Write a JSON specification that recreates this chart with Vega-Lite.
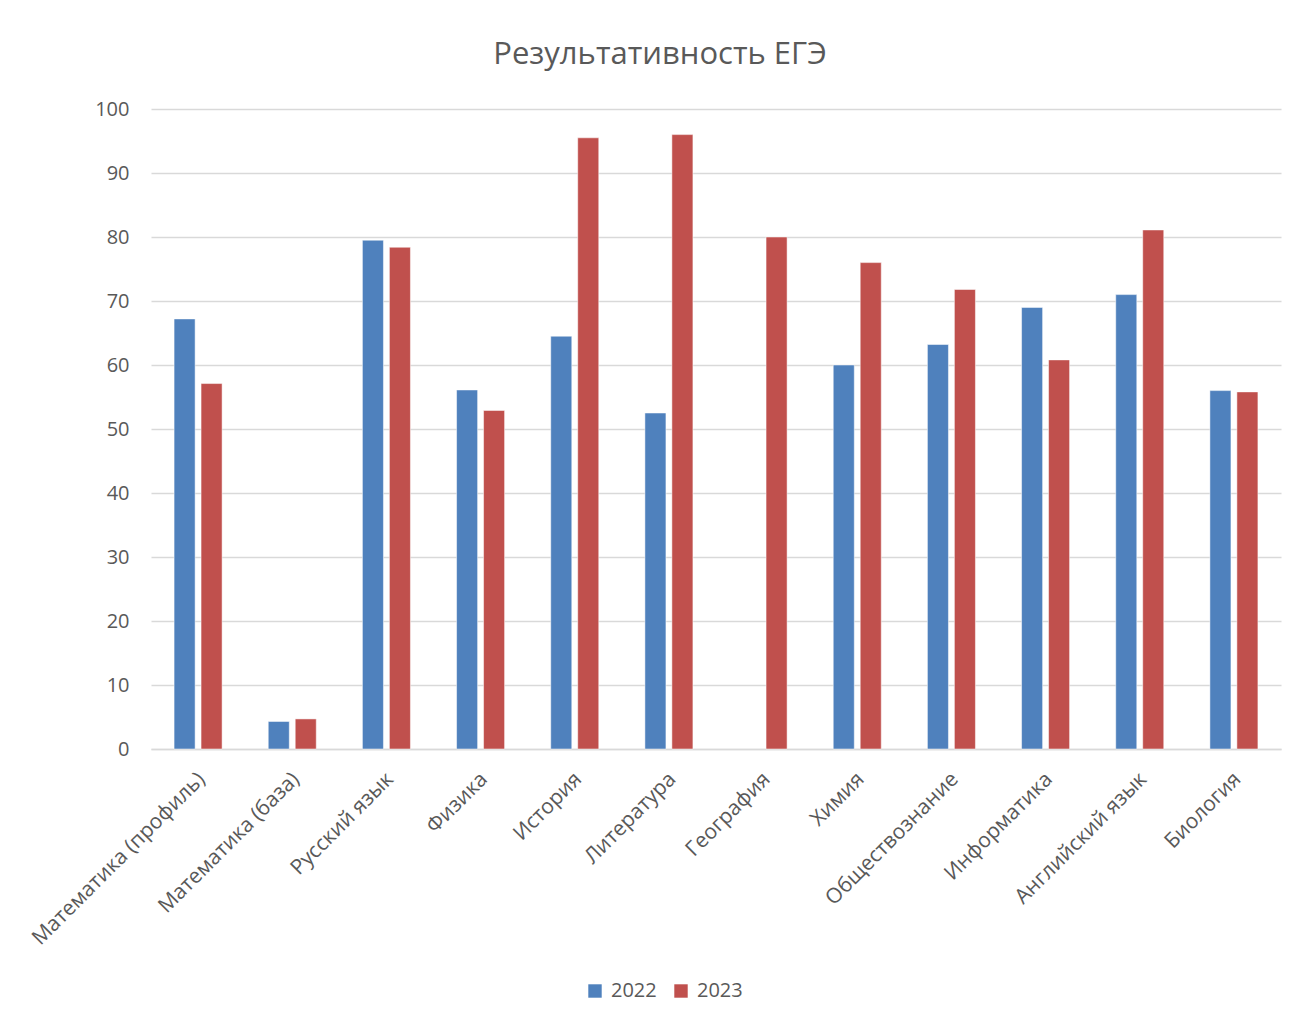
{
  "$schema": "https://vega.github.io/schema/vega-lite/v6.json",
  "autosize": {"type": "none"},
  "width": 1130,
  "height": 640,
  "padding": {"left": 151, "top": 109, "right": 17, "bottom": 272},
  "background": "white",
  "config": {
    "font": "Open Sans",
    "view": {"stroke": null}
  },
  "title": {
    "text": "Результативность ЕГЭ",
    "fontSize": 31,
    "font": "Open Sans",
    "fontWeight": "normal",
    "color": "#595959",
    "anchor": "middle",
    "dx": -56,
    "offset": 28
  },
  "data": {
    "values": [
      {"subject": "Математика (профиль)", "year": "2022", "value": 67.2},
      {"subject": "Математика (профиль)", "year": "2023", "value": 57.1},
      {"subject": "Математика (база)", "year": "2022", "value": 4.3},
      {"subject": "Математика (база)", "year": "2023", "value": 4.7},
      {"subject": "Русский язык", "year": "2022", "value": 79.5},
      {"subject": "Русский язык", "year": "2023", "value": 78.4},
      {"subject": "Физика", "year": "2022", "value": 56.1},
      {"subject": "Физика", "year": "2023", "value": 52.9},
      {"subject": "История", "year": "2022", "value": 64.5},
      {"subject": "История", "year": "2023", "value": 95.5},
      {"subject": "Литература", "year": "2022", "value": 52.5},
      {"subject": "Литература", "year": "2023", "value": 96.0},
      {"subject": "География", "year": "2022", "value": null},
      {"subject": "География", "year": "2023", "value": 80.0},
      {"subject": "Химия", "year": "2022", "value": 60.0},
      {"subject": "Химия", "year": "2023", "value": 76.0},
      {"subject": "Обществознание", "year": "2022", "value": 63.2},
      {"subject": "Обществознание", "year": "2023", "value": 71.8},
      {"subject": "Информатика", "year": "2022", "value": 69.0},
      {"subject": "Информатика", "year": "2023", "value": 60.8},
      {"subject": "Английский язык", "year": "2022", "value": 71.0},
      {"subject": "Английский язык", "year": "2023", "value": 81.1},
      {"subject": "Биология", "year": "2022", "value": 56.0},
      {"subject": "Биология", "year": "2023", "value": 55.8}
    ]
  },
  "mark": {"type": "bar", "stroke": "white", "strokeWidth": 1, "strokeOpacity": 0.5},
  "encoding": {
    "x": {
      "field": "subject",
      "type": "nominal",
      "sort": null,
      "scale": {"paddingInner": 0.49, "paddingOuter": 0.245},
      "axis": {
        "title": null,
        "labelAngle": -45,
        "labelFontSize": 21,
        "labelColor": "#595959",
        "labelPadding": 19,
        "labelOffset": -4,
        "ticks": false,
        "domainColor": "#D9D9D9",
        "domainWidth": 1.5,
        "labelLimit": 400
      }
    },
    "xOffset": {
      "field": "year",
      "type": "nominal",
      "scale": {"paddingInner": 0.22}
    },
    "y": {
      "field": "value",
      "type": "quantitative",
      "scale": {"domain": [0, 100], "nice": false},
      "axis": {
        "title": null,
        "values": [0, 10, 20, 30, 40, 50, 60, 70, 80, 90, 100],
        "labelFontSize": 20,
        "labelColor": "#595959",
        "labelPadding": 22,
        "ticks": false,
        "domain": false,
        "gridColor": "#D9D9D9",
        "gridWidth": 1.5
      }
    },
    "color": {
      "field": "year",
      "type": "nominal",
      "scale": {"domain": ["2022", "2023"], "range": ["#4F81BD", "#C0504D"]},
      "legend": {
        "title": null,
        "orient": "none",
        "direction": "horizontal",
        "legendX": 434,
        "legendY": 872,
        "symbolType": "square",
        "symbolSize": 180,
        "symbolStrokeWidth": 0,
        "labelFontSize": 20,
        "labelColor": "#595959",
        "columnPadding": 14,
        "labelOffset": 6
      }
    }
  }
}
